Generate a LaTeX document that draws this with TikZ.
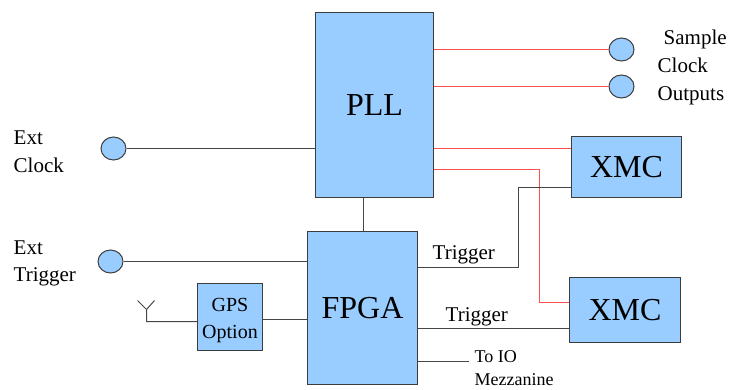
\documentclass[tikz,border=0pt]{standalone}
\usepackage{fontspec}
\setmainfont{Liberation Serif}
\usetikzlibrary{shapes.geometric}
\definecolor{boxfill}{RGB}{153,204,255}
\definecolor{boxline}{RGB}{60,60,60}
\definecolor{wire}{RGB}{70,70,70}
\definecolor{redwire}{RGB}{255,80,80}
\tikzset{
  blockbox/.style={draw=boxline, fill=boxfill, line width=1pt, inner sep=0pt},
  bigtxt/.style={font=\fontsize{32}{36}\selectfont},
  port/.style={draw=boxline, fill=boxfill, line width=1pt, ellipse, minimum width=25pt, minimum height=23pt, inner sep=0pt},
  wireb/.style={draw=wire, line width=1pt},
  wirer/.style={draw=redwire, line width=1pt},
  lbl/.style={anchor=base west, inner sep=0pt, font=\fontsize{21}{24}\selectfont},
  slbl/.style={anchor=base west, inner sep=0pt, font=\fontsize{18}{20}\selectfont},
}
\begin{document}
\begin{tikzpicture}[x=1pt,y=-1pt]
\useasboundingbox (0,0) rectangle (739,389);
\begin{scope}[shift={(0.5,0.5)}]
% blocks
\node[blockbox, bigtxt, minimum width=118pt, minimum height=185pt] (pll) at (374,104.5) {PLL};
\node[blockbox, bigtxt, minimum width=110pt, minimum height=153pt] (fpga) at (362,307.5) {FPGA};
\node[blockbox, bigtxt, minimum width=110pt, minimum height=61pt] (xmc1) at (626,166.5) {XMC};
\node[blockbox, bigtxt, minimum width=111pt, minimum height=65pt] (xmc2) at (624.5,309.5) {XMC};
\node[blockbox, minimum width=65pt, minimum height=67pt] (gps) at (229.5,316.5) {};
\node[anchor=base, inner sep=0pt, font=\fontsize{20}{22}\selectfont] (gpst1) at (229.5,311) {GPS};
\node[anchor=base, inner sep=0pt, font=\fontsize{20}{22}\selectfont] (gpst2) at (229.5,338) {Option};
% ports
\node[port] (c1) at (621,49) {};
\node[port] (c2) at (621,86) {};
\node[port] (extclk) at (113,148) {};
\node[port] (exttrg) at (110,261) {};
% helper coordinates
\coordinate (r3) at (0,148);
\coordinate (r4) at (539,169);
\coordinate (r4b) at (539,302);
\coordinate (t1) at (518,187);
\coordinate (t1b) at (518,267);
\coordinate (t2) at (0,328);
\coordinate (io) at (468,361);
\coordinate (pf) at (363,0);
\coordinate (gy) at (0,319);
\coordinate (ant) at (146,321);
\coordinate (antv) at (146,309);
\coordinate (antl) at (137,300);
\coordinate (antr) at (154,300);
% red clock wires
\draw[wirer] (c1 -| pll.east) -- (c1);
\draw[wirer] (c2 -| pll.east) -- (c2);
\draw[wirer] (r3 -| pll.east) -- (r3 -| xmc1.west);
\draw[wirer] (r4 -| pll.east) -- (r4) -- (r4b) -- (r4b -| xmc2.west);
% black wires
\draw[wireb] (extclk) -- (extclk -| pll.west);
\draw[wireb] (exttrg) -- (exttrg -| fpga.west);
\draw[wireb] (pf |- pll.south) -- (pf |- fpga.north);
\draw[wireb] (t1 -| xmc1.west) -- (t1) -- (t1b) -- (t1b -| fpga.east);
\draw[wireb] (t2 -| fpga.east) -- (t2 -| xmc2.west);
\draw[wireb] (io -| fpga.east) -- (io);
\draw[wireb] (gy -| gps.east) -- (gy -| fpga.west);
\draw[wireb] (ant -| gps.west) -- (ant) -- (antv) -- (antl);
\draw[wireb] (antv) -- (antr);
% labels
\node[lbl] (ls1) at (663,44) {Sample};
\node[lbl] (ls2) at (657,72) {Clock};
\node[lbl] (ls3) at (657,100) {Outputs};
\node[lbl] (le1) at (13,144) {Ext};
\node[lbl] (le2) at (13,172) {Clock};
\node[lbl] (le3) at (13,254) {Ext};
\node[lbl] (le4) at (13,281) {Trigger};
\node[lbl] (lt1) at (432,259) {Trigger};
\node[lbl] (lt2) at (445,321) {Trigger};
\node[slbl] (lio1) at (474,362) {To IO};
\node[slbl] (lio2) at (474,385) {Mezzanine};
\end{scope}
\end{tikzpicture}
\end{document}
